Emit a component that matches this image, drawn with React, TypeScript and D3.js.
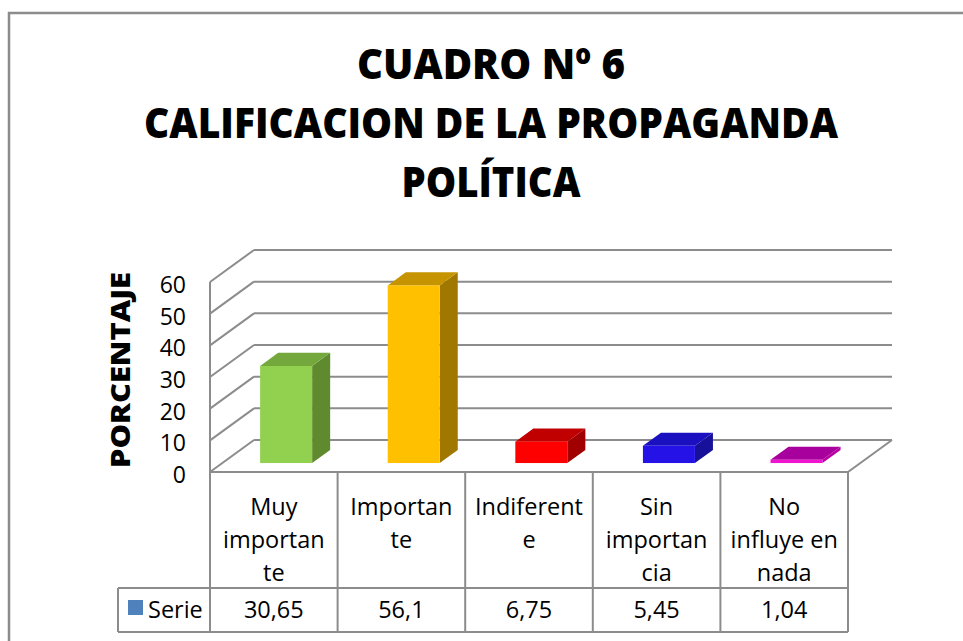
import React, { useEffect, useRef } from 'react';
import * as d3 from 'd3';

const titleLines = ['CUADRO Nº 6', 'CALIFICACION DE LA PROPAGANDA', 'POLÍTICA'];
const categories = ['Muy importante', 'Importante', 'Indiferente', 'Sin importancia', 'No influye en nada'];
// labels as they wrap in the table
const categoryLines = [
    ['Muy', 'importan', 'te'],
    ['Importan', 'te'],
    ['Indiferent', 'e'],
    ['Sin', 'importan', 'cia'],
    ['No', 'influye en', 'nada']
];
const serieValues = [30.65, 56.1, 6.75, 5.45, 1.04];
const valueLabels = ['30,65', '56,1', '6,75', '5,45', '1,04'];
const yTicks = [0, 10, 20, 30, 40, 50, 60];
const frontColors = ['#92D050', '#FFC000', '#FF0000', '#2412E6', '#F014D0'];
const topColors = ['#74A83C', '#C59400', '#C00000', '#1A10C0', '#A8009C'];
const sideColors = ['#5F8A2E', '#A07800', '#A00000', '#16109A', '#B800A4'];

export default function App() {
    const holder = useRef<SVGSVGElement | null>(null);

    useEffect(() => {
        const svg = d3.select(holder.current);
        svg.selectAll('*').remove();

        const grey = '#8C8C8C';
        const font = "'Open Sans', sans-serif";
        const left = 210, right = 848, floorY = 472;
        const depthX = 44, depthY = -32;

        const x = d3.scaleBand<string>().domain(categories).range([left, right]);
        const y = d3.scaleLinear().domain([0, 60]).range([floorY, 282]);

        // outer frame
        svg.append('rect')
            .attr('x', 9).attr('y', 13)
            .attr('width', 1000).attr('height', 700)
            .attr('fill', 'none').attr('stroke', grey).attr('stroke-width', 2.5);

        // title
        const titleWidths = [268, 694, 179];
        svg.append('g').selectAll('text')
            .data(titleLines)
            .join('text')
                .attr('x', 491)
                .attr('y', (d, i) => 79 + i * 59)
                .attr('text-anchor', 'middle')
                .attr('font-family', font)
                .attr('font-weight', 800)
                .attr('font-size', 43)
                .attr('textLength', (d, i) => titleWidths[i])
                .attr('lengthAdjust', 'spacingAndGlyphs')
                .text(d => d);

        // y title
        svg.append('text')
            .attr('transform', 'translate(130, 370) rotate(-90)')
            .attr('text-anchor', 'middle')
            .attr('font-family', font)
            .attr('font-weight', 800)
            .attr('font-size', 26)
            .attr('textLength', 196)
            .attr('lengthAdjust', 'spacingAndGlyphs')
            .text('PORCENTAJE');

        // walls and gridlines
        const grid = svg.append('g').attr('stroke', grey).attr('stroke-width', 2).attr('fill', 'none');
        grid.selectAll('line.back')
            .data(yTicks)
            .join('line')
                .attr('class', 'back')
                .attr('x1', left + depthX).attr('x2', right + depthX)
                .attr('y1', d => y(d) + depthY).attr('y2', d => y(d) + depthY);
        grid.selectAll('line.side')
            .data(yTicks)
            .join('line')
                .attr('class', 'side')
                .attr('x1', left).attr('x2', left + depthX)
                .attr('y1', d => y(d)).attr('y2', d => y(d) + depthY);
        grid.append('line')
            .attr('x1', left).attr('x2', left)
            .attr('y1', y(60)).attr('y2', floorY);
        grid.append('line')
            .attr('x1', right).attr('x2', right + depthX)
            .attr('y1', floorY).attr('y2', floorY + depthY);

        // y tick labels
        svg.append('g').selectAll('text')
            .data(yTicks)
            .join('text')
                .attr('x', 186)
                .attr('y', d => y(d) + 11)
                .attr('text-anchor', 'end')
                .attr('font-family', font)
                .attr('font-size', 23)
                .text(d => d);

        // bars
        const f0 = 0.28, f1 = 0.69;
        const barW = 52;
        const dfx = depthX * (f1 - f0), dfy = depthY * (f1 - f0);
        const bars = svg.append('g').selectAll('g')
            .data(serieValues)
            .join('g');
        const bx = (i: number) => (x(categories[i]) as number) + depthX * f0 + (x.bandwidth() - barW) / 2;
        const byTop = (d: number) => y(d) + depthY * f0;
        const byBot = y(0) + depthY * f0;

        bars.append('polygon')
            .attr('fill', (d, i) => sideColors[i])
            .attr('points', (d, i) => {
                const x1 = bx(i) + barW, t = byTop(d);
                return [[x1, t], [x1 + dfx, t + dfy], [x1 + dfx, byBot + dfy], [x1, byBot]].join(' ');
            });
        bars.append('polygon')
            .attr('fill', (d, i) => topColors[i])
            .attr('points', (d, i) => {
                const x0 = bx(i), t = byTop(d);
                return [[x0, t], [x0 + barW, t], [x0 + barW + dfx, t + dfy], [x0 + dfx, t + dfy]].join(' ');
            });
        bars.append('rect')
            .attr('fill', (d, i) => frontColors[i])
            .attr('x', (d, i) => bx(i))
            .attr('y', d => byTop(d))
            .attr('width', barW)
            .attr('height', d => byBot - byTop(d));

        // data table
        const rowTop = floorY, rowMid = 588, rowBot = 632, legendLeft = 118;
        const table = svg.append('g').attr('stroke', grey).attr('stroke-width', 2);
        table.append('line').attr('x1', left).attr('x2', right).attr('y1', rowTop).attr('y2', rowTop);
        table.append('line').attr('x1', legendLeft).attr('x2', right).attr('y1', rowMid).attr('y2', rowMid);
        table.append('line').attr('x1', legendLeft).attr('x2', right).attr('y1', rowBot).attr('y2', rowBot);
        table.append('line').attr('x1', legendLeft).attr('x2', legendLeft).attr('y1', rowMid).attr('y2', rowBot);
        table.selectAll('line.col')
            .data([...categories.map(c => x(c) as number), right])
            .join('line')
                .attr('class', 'col')
                .attr('x1', d => d).attr('x2', d => d)
                .attr('y1', rowTop).attr('y2', rowBot);

        const cells = svg.append('g')
            .attr('font-family', font)
            .attr('font-size', 23.5)
            .attr('text-anchor', 'middle');
        categoryLines.forEach((lines, i) => {
            const cx = (x(categories[i]) as number) + x.bandwidth() / 2;
            cells.append('g').selectAll('text')
                .data(lines)
                .join('text')
                    .attr('x', cx)
                    .attr('y', (d, j) => 515 + j * 33)
                    .text(d => d);
            cells.append('text')
                .attr('x', cx)
                .attr('y', 618)
                .text(valueLabels[i]);
        });

        // legend key
        svg.append('rect')
            .attr('x', 128).attr('y', 600)
            .attr('width', 15).attr('height', 15)
            .attr('fill', '#4F81BD');
        svg.append('text')
            .attr('x', 148).attr('y', 618)
            .attr('font-family', font)
            .attr('font-size', 23.5)
            .text('Serie');
    }, []);

    return (
        <svg ref={holder} width={963} height={641}
            style={{ position: 'absolute', left: 0, top: 0, background: '#fff' }} />
    );
}
